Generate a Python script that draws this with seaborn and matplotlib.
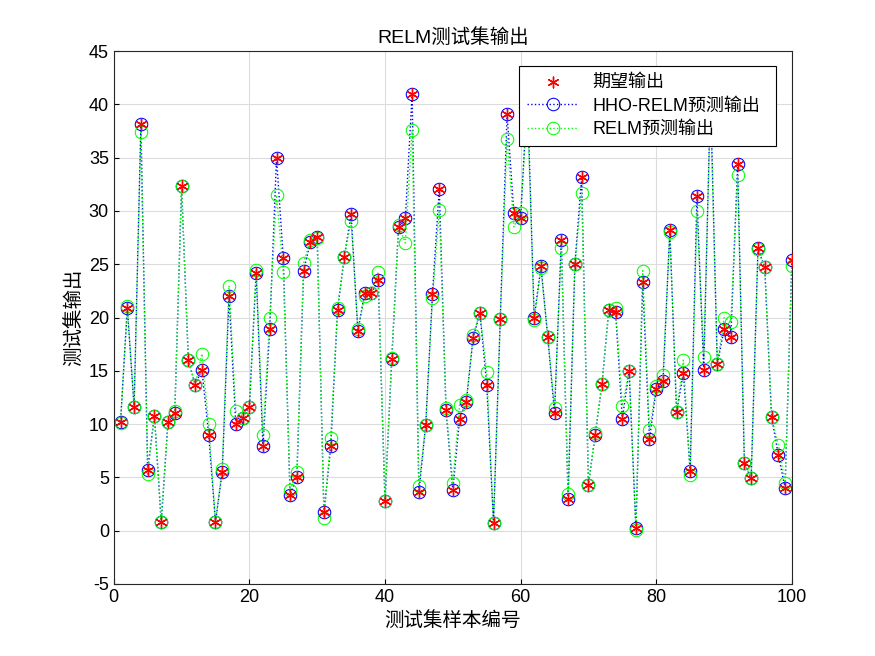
import numpy as np
import pandas as pd
import seaborn as sns
import matplotlib
matplotlib.use('Agg')
import matplotlib.pyplot as plt
from matplotlib import font_manager

names = set(f.name for f in font_manager.fontManager.ttflist)
cjk = next((n for n in ['Noto Sans CJK SC', 'Noto Sans CJK JP', 'Noto Sans CJK TC',
                        'Noto Sans CJK KR'] if n in names), 'DejaVu Sans')
plt.rcParams['font.family'] = ['Liberation Sans', cjk]
plt.rcParams['axes.unicode_minus'] = False

idx = list(range(1, 101))
expected = [10.2, 20.9, 11.6, 38.2, 5.7, 10.8, 0.8, 10.2, 11.0, 32.3,
            16.0, 13.7, 15.1, 9.0, 0.8, 5.5, 22.0, 10.0, 10.6, 11.6,
            24.2, 7.9, 18.9, 35.0, 25.6, 3.3, 5.0, 24.4, 27.1, 27.6,
            1.7, 7.9, 20.7, 25.7, 29.7, 18.7, 22.3, 22.3, 23.5, 2.8,
            16.1, 28.5, 29.3, 41.0, 3.6, 9.9, 22.2, 32.1, 11.3, 3.8,
            10.5, 12.1, 18.1, 20.4, 13.7, 0.7, 19.9, 39.1, 29.8, 29.3,
            41.0, 20.0, 24.8, 18.2, 11.0, 27.3, 3.0, 25.0, 33.2, 4.3,
            9.0, 13.8, 20.7, 20.5, 10.5, 15.0, 0.2, 23.3, 8.6, 13.3,
            14.0, 28.2, 11.1, 14.8, 5.6, 31.4, 15.1, 41.0, 15.6, 18.9,
            18.2, 34.4, 6.3, 4.9, 26.5, 24.7, 10.7, 7.1, 4.0, 25.4]
hho = list(expected)
relm = [10.1, 21.1, 11.6, 37.4, 5.3, 10.8, 0.8, 10.2, 11.2, 32.3,
        16.0, 13.7, 16.6, 10.0, 0.8, 5.8, 23.0, 11.2, 10.6, 11.6,
        24.5, 9.0, 20.0, 31.5, 24.3, 3.8, 5.5, 25.1, 27.3, 27.5,
        1.2, 8.7, 20.9, 25.7, 29.1, 18.9, 22.0, 22.3, 24.3, 2.8,
        16.2, 28.7, 27.0, 37.6, 4.2, 9.9, 21.8, 30.1, 11.5, 4.5,
        11.8, 12.3, 18.4, 20.4, 14.9, 0.7, 19.9, 36.8, 28.5, 29.8,
        40.0, 19.8, 24.6, 18.2, 11.5, 26.5, 3.4, 25.0, 31.7, 4.3,
        9.2, 13.8, 20.7, 20.9, 11.7, 15.0, 0.1, 24.4, 9.4, 13.6,
        14.6, 28.0, 11.1, 16.0, 5.2, 30.0, 16.3, 40.0, 15.6, 20.0,
        19.6, 33.4, 6.3, 4.9, 26.4, 24.7, 10.7, 8.0, 4.5, 24.8]

df = pd.DataFrame({'idx': idx, 'exp': expected, 'hho': hho, 'relm': relm})

fig = plt.figure(figsize=(8.75, 6.56), dpi=100)
ax = fig.add_axes([0.13, 0.11, 0.775, 0.812])

sns.scatterplot(data=df, x='idx', y='exp', ax=ax, marker=(6, 2, 0), s=60,
                color='red', linewidth=1, label='期望输出', zorder=3)
sns.lineplot(data=df, x='idx', y='hho', ax=ax, color='blue', linestyle=':',
             linewidth=1, marker='o', markersize=9, markerfacecolor='none',
             markeredgecolor='blue', label='HHO-RELM预测输出')
sns.lineplot(data=df, x='idx', y='relm', ax=ax, color='#00ff00', linestyle=':',
             linewidth=1, marker='o', markersize=9, markerfacecolor='none',
             markeredgecolor='#00ff00', label='RELM预测输出')

ax.set_xlim(0, 100)
ax.set_ylim(-5, 45)
ax.set_xticks(range(0, 101, 20))
ax.set_yticks(range(-5, 46, 5))
ax.grid(True, color='#dcdcdc', linewidth=0.8)
ax.set_axisbelow(True)
ax.tick_params(labelsize=13, direction='in')
for s in ax.spines.values():
    s.set_color('#262626')
ax.set_xlabel('测试集样本编号', fontsize=14)
ax.set_ylabel('测试集输出', fontsize=14)
ax.set_title('RELM测试集输出', fontsize=14)
leg = ax.legend(loc='upper left', bbox_to_anchor=(0.598, 0.827, 0.378, 0.145),
                mode='expand', fontsize=13, fancybox=False, framealpha=1,
                edgecolor='black', borderaxespad=0, handlelength=2.8,
                borderpad=0.45, labelspacing=0.35)
leg.get_frame().set_linewidth(0.8)
leg.set_zorder(10)

fig.savefig('out.png')
